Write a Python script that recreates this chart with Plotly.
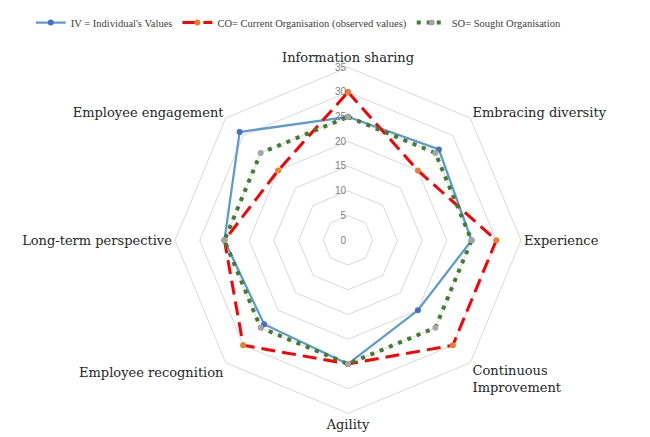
import plotly.graph_objects as go

categories = ["Information sharing", "Embracing diversity", "Experience",
              "Continuous<br>Improvement", "Agility", "Employee recognition",
              "Long-term perspective", "Employee engagement"]
iv_values = [25, 26, 25, 20, 25, 24, 25, 31]
co_values = [30, 20, 30, 30, 25, 30, 25, 20]
so_values = [25, 25, 25, 25, 25, 25, 25, 25]
radial_ticks = [0, 5, 10, 15, 20, 25, 30, 35]

def closed(v):
    return v + v[:1]

theta = closed(categories)

fig = go.Figure()
fig.add_trace(go.Scatterpolar(
    r=closed(iv_values), theta=theta, mode="lines+markers",
    name="IV = Individual's Values",
    line=dict(color="#5B9BD5", width=2.25),
    marker=dict(color="#4472C4", size=6),
))
fig.add_trace(go.Scatterpolar(
    r=closed(co_values), theta=theta, mode="lines+markers",
    name="CO= Current Organisation (observed values)",
    line=dict(color="#FF0000", width=3, dash="14px,7px"),
    marker=dict(color="#ED7D31", size=6),
))
fig.add_trace(go.Scatterpolar(
    r=closed(so_values), theta=theta, mode="lines+markers",
    name="SO= Sought Organisation",
    line=dict(color="#3F7F2A", width=4, dash="4px,6px"),
    marker=dict(color="#A5A5A5", size=6),
))

fig.update_layout(
    width=650, height=437,
    margin=dict(l=0, r=0, t=0, b=0),
    paper_bgcolor="white",
    showlegend=True,
    legend=dict(orientation="h", x=0.035, y=1.012, xanchor="left", yanchor="top",
                font=dict(family="Liberation Serif", size=10.5, color="#404040"),
                itemwidth=30, tracegroupgap=0),
    polar=dict(
        domain=dict(x=[165/650, 515/650], y=[32/437, 382/437]),
        bgcolor="white",
        gridshape="linear",
        angularaxis=dict(
            direction="clockwise", rotation=90,
            showgrid=False, showline=True, linecolor="#D9D9D9", linewidth=1,
            ticks="", tickfont=dict(family="DejaVu Serif", size=13, color="#262626"),
        ),
        radialaxis=dict(
            range=[0, 35], tickvals=radial_ticks, ticktext=[str(t) for t in radial_ticks],
            angle=90, tickangle=90, side="counterclockwise",
            showline=False, ticks="",
            gridcolor="#D9D9D9", gridwidth=1,
            tickfont=dict(family="Liberation Sans", size=10, color="#808080"),
        ),
    ),
)

fig.write_html("out.html")
